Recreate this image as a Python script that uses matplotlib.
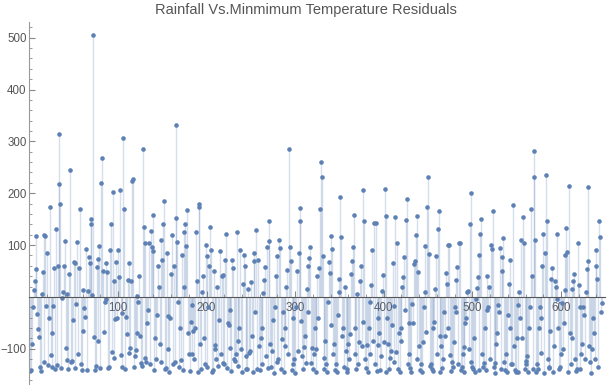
import numpy as np
import matplotlib.pyplot as plt
from matplotlib.ticker import MultipleLocator

rows = [
    [-143, -141, -91, -19, 14, 31, 118, 54, -33, -62, -78, -135],
    [-143, 5, 48, -125, 120, 117, -18, 85, -132, -40, 174, -112],
    [-70, -135, -18, 55, -140, 130, -132, 60, 315, 217, 180, -137],
    [-2, 10, 59, 107, -98, 6, -122, -140, 45, 245, -125, -123],
    [-45, 68, 65, -138, -13, 105, -110, 55, 170, -130, -141, -65],
    [13, -22, -38, 93, -141, 12, 77, 65, 140, 150, 3, 505],
    [-78, -141, -133, 57, 73, -85, 98, -137, 219, 267, 50, -68],
    [-9, -5, 65, 48, -138, -135, 91, 140, -107, 202, -118, 30],
    [-42, 67, -40, 91, 38, 206, -112, -32, -135, 307, 169, -140],
    [-38, -72, 33, 65, -108, -98, 31, 224, 227, -136, -114, -102],
    [2, -70, -10, 40, -76, -128, -133, 285, 135, 104, -117, -125],
    [-50, -26, 103, -130, 128, 96, 88, 158, -141, -80, -120, -35],
    [60, 20, -90, -125, 110, 72, 140, 185, -140, -138, 85, -36],
    [-100, -144, -40, 45, 120, -130, 60, -125, 152, 332, 105, -10],
    [-135, -60, -122, 80, -142, 126, 20, 140, 98, 167, -70, -110],
    [-143, -48, -110, -15, -66, -120, -60, 125, 30, -145, 180, 173],
    [-90, -140, 10, 40, -80, -130, 100, 78, -135, -20, 60, 134],
    [91, -145, -142, 50, -92, -100, -120, 20, -133, -44, 89, -110],
    [40, 43, -128, -130, 72, 122, -137, -50, -55, -25, -98, -143],
    [72, 55, -120, -124, -110, 126, -133, -85, -60, 90, -100, -144],
    [24, 80, 60, -115, -140, -140, 15, -108, -105, 29, -76, -145],
    [70, 85, -30, 129, -140, 72, -95, -142, -80, -60, -130, 8],
    [33, 58, -115, 96, -138, 146, 108, -90, -135, -104, -45, -147],
    [-20, 40, -125, 78, -120, 109, 94, -140, -82, -30, -144, -95],
    [-60, 20, 52, -110, 285, 96, 70, -142, -130, -40, -120, -146],
    [-20, 50, -105, 84, 171, 146, -46, -115, -140, -97, -75, -128],
    [15, -30, 60, 75, 97, -128, -98, -140, -110, -60, -145, -100],
    [40, -40, 55, 169, 260, 231, 78, -140, -118, -85, -130, -145],
    [-10, 68, 46, 118, -55, 92, -110, -90, -142, -130, -145, -35],
    [35, 10, 192, 116, -75, -60, -135, 20, -105, -140, -145, -90],
    [-120, -72, 45, 70, 96, 157, -110, -60, -140, 5, -130, -88],
    [30, 60, -95, -48, 207, 146, -120, -138, -93, -145, -60, -110],
    [-10, 22, 90, -85, 143, -130, 143, -143, -40, -92, -70, -142],
    [-115, 12, 42, -87, 208, 156, -145, -40, -90, -140, -118, -105],
    [-55, 66, -18, -125, 154, -106, 104, -140, -70, -145, -85, -60],
    [20, 38, 76, -25, 148, 189, -130, -50, -111, -138, -145, -14],
    [-50, 64, 70, 120, 156, -120, 48, -95, -142, -130, -145, -88],
    [-20, 10, 98, -68, 173, 231, 82, -134, -129, -140, -143, -60],
    [-48, 15, 78, -110, 130, 166, -76, -145, -95, -138, -120, -30],
    [-75, 46, 25, -60, 100, 100, -112, -143, -125, -135, -88, -20],
    [32, -30, 58, -130, 103, 103, -142, -135, -110, -96, -145, -50],
    [-40, 10, 12, -100, 141, 201, -126, -136, -140, -80, -145, -5],
    [18, 38, 80, -142, 121, 150, -110, -135, -128, -60, -142, -25],
    [40, -20, 20, -120, 100, 92, 165, -136, -128, -146, -90, -70],
    [-15, -30, 95, -140, 76, 50, 113, -125, -142, -110, -145, -35],
    [25, 72, -60, -130, -130, 178, -95, -142, -144, -80, -145, -15],
    [10, -40, 110, -80, 154, 104, -140, -123, -130, -115, -145, -60],
    [-20, 169, 40, -140, 281, 231, 109, -145, -130, -140, -60, -20],
    [-40, -108, 60, 122, -146, 84, 235, 146, -120, -135, -138, -65],
    [35, 55, -145, -95, 30, 20, -5, 122, -60, -140, -135, -110],
    [-12, -100, -50, 14, 80, 133, 86, -145, 214, -70, -130, -80],
    [15, 30, 45, -120, -143, -140, 104, 22, -140, -20, -110, -90],
    [-20, -35, -120, 10, 53, 70, 212, -95, -125, -146, -100, -40],
    [-70, -120, 60, 90, 35, -135, 146, 115, -30, -11],
]
residuals = np.array([v for r in rows for v in r], dtype=float)
index = np.arange(1, len(residuals) + 1)

title = "Rainfall Vs.Minmimum Temperature Residuals"
point_color = "#5E81B5"

plt.rcParams['font.family'] = ['Liberation Sans', 'DejaVu Sans']

fig = plt.figure(figsize=(6.12, 3.89), dpi=100)
ax = fig.add_axes([0.048, 0.013, 0.941, 0.93])

# filling to axis, then the points
ax.vlines(index, 0, residuals, color=point_color, alpha=0.25, linewidth=1.0)
ax.plot(index, residuals, 'o', color=point_color, markersize=3.3, markeredgewidth=0)

ax.set_xlim(0, 650)
ax.set_ylim(-168, 530)

ax.spines['top'].set_visible(False)
ax.spines['right'].set_visible(False)
ax.spines['bottom'].set_position(('data', 0))
ax.spines['bottom'].set_color('#555555')
ax.spines['left'].set_color('#999999')

ax.xaxis.set_minor_locator(MultipleLocator(20))
ax.yaxis.set_minor_locator(MultipleLocator(20))
ax.set_xticks([100, 200, 300, 400, 500, 600])
ax.set_yticks([-100, 100, 200, 300, 400, 500])

ax.tick_params(which='both', direction='in', colors='#888888', labelcolor='#555555', labelsize=8.3)
ax.tick_params(which='major', length=4, width=0.8)
ax.tick_params(which='minor', length=2, width=0.6)
ax.tick_params(axis='x', pad=4)
ax.tick_params(axis='y', pad=2)

fig.text(0.5, 0.975, title, ha='center', va='center', fontsize=10.5, color='#555555')

plt.savefig('out.png', dpi=100)
